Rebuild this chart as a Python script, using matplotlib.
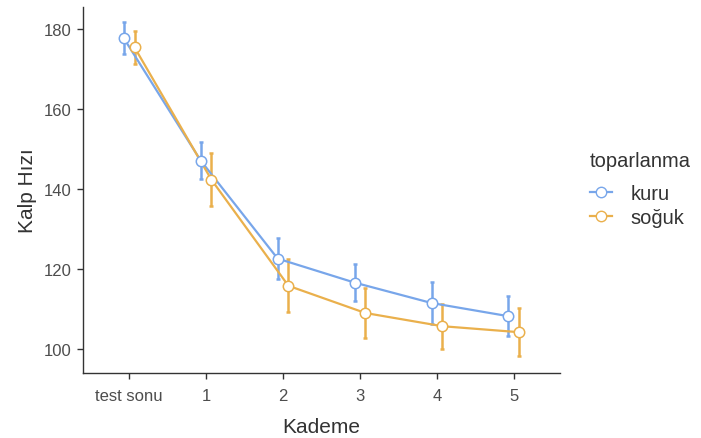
import matplotlib
matplotlib.use("Agg")
import matplotlib.pyplot as plt
from matplotlib.lines import Line2D
import numpy as np

plt.rcParams['font.family'] = ['Liberation Sans', 'DejaVu Sans']

stages = ["test sonu", "1", "2", "3", "4", "5"]
kuru = [177.7, 147.1, 122.6, 116.6, 111.5, 108.2]
kuru_err = [4.0, 4.7, 5.1, 4.6, 5.2, 5.0]
soguk = [175.4, 142.3, 115.8, 109.0, 105.7, 104.2]
soguk_err = [4.1, 6.6, 6.6, 6.2, 5.6, 6.0]

blue = "#78a6ea"
orange = "#eab04c"

fig = plt.figure(figsize=(7.01, 4.39), dpi=100)
ax = fig.add_axes([83/701, 1 - 374/439, (560-83)/701, (374-8)/439])

x = np.arange(len(stages))
dodge = 0.07
for vals, errs, col, off in [(kuru, kuru_err, blue, -dodge), (soguk, soguk_err, orange, dodge)]:
    xs = x + off
    ax.errorbar(xs, vals, yerr=errs, fmt='none', ecolor=col, elinewidth=1.8,
                capsize=1.6, capthick=1.8, zorder=2)
    ax.plot(xs, vals, color=col, lw=1.6, zorder=3)
    ax.plot(xs, vals, 'o', ms=7.5, mfc='white', mec=col, mew=1.1, zorder=4)

ax.set_xlim(-0.6, 5.6)
ax.set_ylim(94, 185.5)
ax.set_xticks(x)
ax.set_xticklabels(stages)
ax.set_yticks([100, 120, 140, 160, 180])
for s in ['top', 'right']:
    ax.spines[s].set_visible(False)
for s in ['left', 'bottom']:
    ax.spines[s].set_color('#333333')
    ax.spines[s].set_linewidth(1.0)
ax.tick_params(colors='#333333', labelsize=12, length=4, width=1.0, labelcolor='#4d4d4d', pad=4)
ax.tick_params(axis='x', pad=7)
ax.set_xlabel("Kademe", fontsize=15, color='#333333', labelpad=10)
ax.set_ylabel("Kalp Hızı", fontsize=15, color='#333333', labelpad=5)

handles = [Line2D([0], [0], color=blue, lw=1.6, marker='o', ms=7.5, mfc='white', mec=blue),
           Line2D([0], [0], color=orange, lw=1.6, marker='o', ms=7.5, mfc='white', mec=orange)]
leg = fig.legend(handles, ["kuru", "soğuk"], title="toparlanma", loc='upper left',
                 bbox_to_anchor=(582/701, 1 - 144/439), frameon=False, fontsize=14.5,
                 title_fontsize=14.5, handlelength=1.1, handletextpad=0.9, labelspacing=0.25,
                 borderaxespad=0)
leg._legend_box.align = "left"
leg._legend_box.sep = 10
leg.get_title().set_color('#333333')
for t in leg.get_texts():
    t.set_color('#333333')

fig.savefig("out.png", dpi=100)
